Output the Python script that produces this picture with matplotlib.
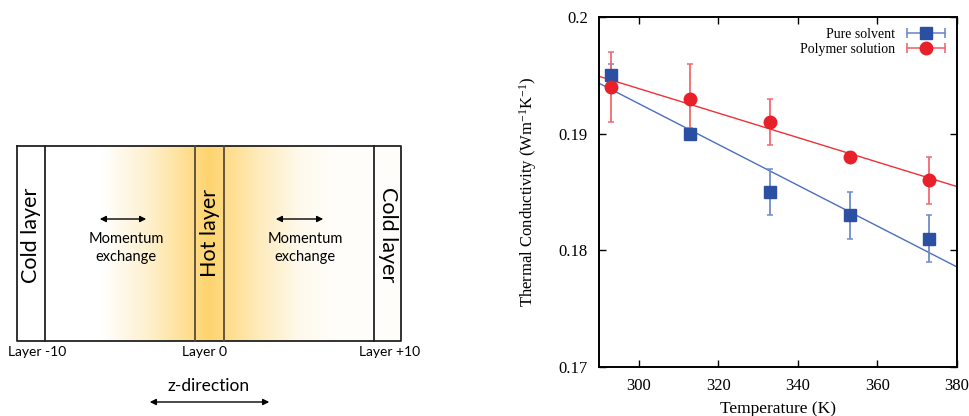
import numpy as np
import matplotlib
matplotlib.use('Agg')
from matplotlib import pyplot as plt
from matplotlib.lines import Line2D
from matplotlib.legend_handler import HandlerLine2D, HandlerTuple

# right panel data
temps = [293, 313, 333, 353, 373]
solvent_k = [0.195, 0.190, 0.185, 0.183, 0.181]
solvent_err = [0.001, 0.0005, 0.002, 0.002, 0.002]
polymer_k = [0.194, 0.193, 0.191, 0.188, 0.186]
polymer_err = [0.003, 0.003, 0.002, 0.0004, 0.002]
x_ticks = [300, 320, 340, 360, 380]
y_ticks = [0.17, 0.18, 0.19, 0.2]
y_ticklabels = ['0.17', '0.18', '0.19', '0.2']

# left panel text
layer_labels = ['Layer -10', 'Layer 0', 'Layer +10']

blue = '#2b4fa3'
blue_err = '#6f8cc8'
red = '#e8202a'
red_err = '#f06a70'

serif = 'Liberation Serif'
plt.rcParams['font.family'] = serif
plt.rcParams['mathtext.fontset'] = 'custom'
plt.rcParams['mathtext.rm'] = serif
plt.rcParams['mathtext.it'] = serif + ':italic'

fig = plt.figure(figsize=(9.69, 4.16), dpi=100)

# ---------- left: schematic, drawn in pixel coords ----------
axl = fig.add_axes([0, 0, 436 / 969, 1])
axl.set_xlim(0, 436)
axl.set_ylim(416, 0)
axl.axis('off')

x0, x1 = 17, 401
y0, y1 = 146, 341
hot0, hot1 = 195, 224
cold_l, cold_r = 45, 374

# yellow gradient profile along z
xs = np.linspace(x0, x1, 800)
t = np.interp(xs, [x0, 102, 150, 195, 209, 224, 260, 300, 335, x1],
              [0, 0, 0.35, 0.85, 1.0, 0.85, 0.45, 0.13, 0.03, 0.03])
hot_rgb = np.array([254, 212, 110]) / 255
img = 1 - t[:, None] * (1 - hot_rgb[None, :])
axl.imshow(img[None, :, :], extent=[x0, x1, y1, y0], aspect='auto', zorder=1)

axl.plot([x0, x1, x1, x0, x0], [y0, y0, y1, y1, y0], color='#222222', lw=1.3, zorder=3)
for xv, c in [(cold_l, '#222222'), (cold_r, '#222222'), (hot0, '#55493a'), (hot1, '#55493a')]:
    axl.plot([xv, xv], [y0, y1], color=c, lw=1.3, zorder=3)

lfont = 'Lato'
axl.text((x0 + cold_l) / 2, 235, 'Cold layer', rotation=90, ha='center', va='center',
         fontsize=15.5, family=lfont, zorder=4)
axl.text((cold_r + x1) / 2, 235, 'Cold layer', rotation=270, ha='center', va='center',
         fontsize=15.5, family=lfont, zorder=4)
axl.text((hot0 + hot1) / 2, 233, 'Hot layer', rotation=90, ha='center', va='center',
         fontsize=15.5, family=lfont, zorder=4)

arrow_kw = dict(arrowstyle='<|-|>', color='black', lw=1.0, mutation_scale=9)
for xa, xb, xc in [(97, 149, 126), (273, 326, 305)]:
    axl.annotate('', xy=(xb, 219), xytext=(xa, 219), arrowprops=arrow_kw, zorder=4)
    axl.text(xc, 248, 'Momentum\nexchange', ha='center', va='center', fontsize=10.5,
             family=lfont, linespacing=1.45, zorder=4)

for xc, lab in zip([37, 205, 390], layer_labels):
    axl.text(xc, 352, lab, ha='center', va='center', fontsize=10, family=lfont)

axl.text(209, 386, 'z-direction', ha='center', va='center', fontsize=12.5, family=lfont)
axl.annotate('', xy=(272, 402), xytext=(147, 402), arrowprops=arrow_kw)

# ---------- right: thermal conductivity ----------
ax = fig.add_axes([599 / 969, 49 / 416, 358 / 969, 350 / 416])

tt = np.array(temps)
xfit = np.array([290, 380])
ps = np.polyfit(tt, solvent_k, 1)
pp = np.polyfit(tt, polymer_k, 1)
ax.plot(xfit, np.polyval(ps, xfit), color='#4a6ec0', lw=1.0, zorder=2)
ax.plot(xfit, np.polyval(pp, xfit), color='#ee3038', lw=1.0, zorder=2)

ax.errorbar(temps, solvent_k, yerr=solvent_err, fmt='none', ecolor=blue_err,
            elinewidth=1.3, capsize=2.3, capthick=1.1, zorder=3)
ax.errorbar(temps, polymer_k, yerr=polymer_err, fmt='none', ecolor=red_err,
            elinewidth=1.3, capsize=2.3, capthick=1.1, zorder=3)
ax.plot(temps, solvent_k, 's', color=blue, ms=8.5, zorder=4)
ax.plot(temps, polymer_k, 'o', color=red, ms=9, zorder=5)

ax.set_xlim(290, 380)
ax.set_ylim(0.17, 0.2)
ax.set_xticks(x_ticks)
ax.set_yticks(y_ticks)
ax.set_yticklabels(y_ticklabels)
ax.tick_params(direction='in', length=5, width=1, top=True, right=True, labelsize=12, pad=8,
               labelfontfamily=serif)
for s in ax.spines.values():
    s.set_linewidth(1.4)
ax.set_xlabel('Temperature (K)', fontsize=12.5, labelpad=5, family=serif)
ax.set_ylabel('Thermal Conductivity (Wm$^{-1}$K$^{-1}$)', fontsize=12, labelpad=14, family=serif)

# gnuplot-style legend: text, then horizontal error bar with marker
cap_s = Line2D([], [], color=blue_err, marker='|', ms=7, mew=1.2, ls='-', lw=1.2)
mk_s = Line2D([], [], color=blue, marker='s', ms=8.5, ls='none')
cap_p = Line2D([], [], color=red_err, marker='|', ms=7, mew=1.2, ls='-', lw=1.2)
mk_p = Line2D([], [], color=red, marker='o', ms=9, ls='none')
ax.legend([(cap_s, mk_s), (cap_p, mk_p)], ['Pure solvent', 'Polymer solution'],
          handler_map={cap_s: HandlerLine2D(numpoints=2), cap_p: HandlerLine2D(numpoints=2),
                       tuple: HandlerTuple(ndivide=1)},
          loc='upper right', frameon=False, markerfirst=False, fontsize=10,
          prop={'family': serif, 'size': 10},
          handlelength=3.4, handletextpad=0.5, labelspacing=0.15, borderaxespad=0.0,
          bbox_to_anchor=(0.995, 0.985))

fig.savefig('out.png', dpi=100)
